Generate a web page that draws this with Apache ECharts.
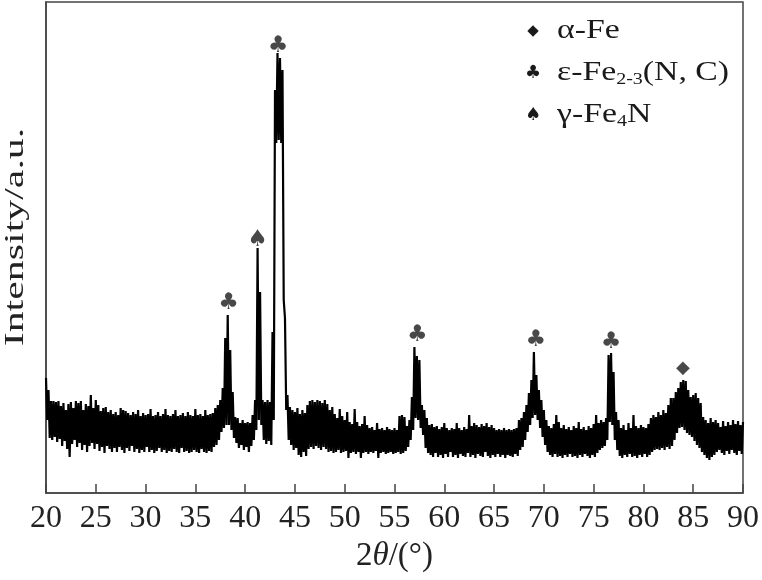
<!DOCTYPE html>
<html><head><meta charset="utf-8">
<script src="https://cdn.jsdelivr.net/npm/echarts@6/dist/echarts.min.js"></script>
<style>html,body{margin:0;padding:0;background:#fff}#c{width:762px;height:580px}</style>
</head><body><div id="c"></div>
<script>
// 2θ sampling grid (degrees)
const thetaStart = 20, thetaStep = 0.25;
// Upper extent of the noisy signal at each 2θ sample (arbitrary intensity units)
const intensityHigh = [
 115,103,92,92,  91,92,87,90,  83,89,91,85,  92,90,92,83,  89,87,98,85,
 93,88,82,85,  86,81,83,79,  81,78,85,83,  82,80,78,81,  79,83,77,80,
 78,79,84,77,  78,81,77,79,  84,78,77,79,  83,77,78,80,  77,81,78,77,
 84,78,79,77,  83,78,79,80,  85,88,93,105,  155,178,143,101,  76,75,70,73,
 70,71,70,78,  93,245,201,93,  91,93,91,161,  403,440,435,423,  175,98,86,83,
 81,85,79,83,  80,88,92,93,  91,93,92,90,  93,89,83,86,  79,75,84,77,
 73,81,71,69,  84,71,67,69,  77,68,65,66,  63,70,64,65,  63,66,64,63,
 65,63,77,78,  76,67,73,96,  146,137,133,88,  83,75,68,69,  66,67,64,66,
 70,65,63,65,  64,70,65,63,  66,64,78,67,  70,68,66,69,  67,70,66,68,
 65,63,64,63,  65,63,64,63,  64,65,73,75,  81,88,100,113,  141,118,103,93,
 83,73,67,65,  69,78,71,65,  68,64,66,63,  67,65,71,64,  66,63,67,65,
 69,78,70,73,  71,75,138,140,  121,81,73,65,  68,63,70,65,  78,67,65,68,
 66,65,69,75,  78,76,81,78,  83,80,88,95,  95,101,105,111,  113,112,103,96,
 98,100,95,90,  76,73,70,75,  71,73,70,66,  72,67,71,68,  73,69,72,68,
 71
];
// Lower extent of the noisy signal, half a step after each sample
const intensityLow = [
 73,55,53,56,  51,54,47,52,  44,36,49,53,  46,50,43,48,  41,47,50,44,
 49,42,46,40,  47,44,41,45,  41,46,43,40,  45,42,47,41,  44,40,43,41,
 46,41,43,40,  42,45,41,43,  40,42,41,44,  41,40,45,41,  42,40,41,43,
 41,40,44,41,  40,42,41,46,  48,53,61,65,  68,68,63,55,  50,45,48,43,
 46,41,47,53,  63,73,68,53,  49,52,48,73,  350,353,350,193,  83,53,48,43,
 45,38,36,41,  37,44,46,44,  47,45,43,46,  44,41,42,40,  41,43,40,41,
 42,35,40,41,  39,41,35,40,  41,39,41,40,  42,35,40,41,  39,40,41,39,
 40,41,39,40,  42,46,53,63,  75,73,65,58,  45,40,38,36,  40,36,38,35,
 39,36,41,36,  38,35,39,37,  36,40,36,38,  35,39,37,36,  41,37,35,38,
 36,39,36,38,  35,38,37,36,  39,37,43,46,  53,61,68,75,  78,73,65,56,
 48,41,38,36,  39,36,37,35,  38,36,39,36,  37,35,38,36,  39,37,35,38,
 36,40,43,45,  47,53,71,68,  53,43,37,35,  38,36,39,36,  37,35,38,36,
 39,36,38,41,  43,44,43,45,  43,46,44,47,  53,60,65,66,  63,60,58,56,
 52,48,45,41,  38,35,33,36,  38,41,43,40,  38,42,39,43,  40,38,42,39,
 41
];
// Peak phase markers
const markTheta = [38.34, 41.24, 43.3, 57.3, 69.2, 76.75, 83.97];
const markIntensity = [190, 253, 447, 158, 153, 151, 125];
const markGlyph = ['♣','♠','♣','♣','♣','♣','◆'];
// Legend
const legendGlyph = ['◆','♣','♠'];
const legendLabel = ['α-Fe','ε-Fe{sub|2-3}(N, C)','γ-Fe{sub|4}N'];
// Axis ticks and titles
const xTicks = [20,25,30,35,40,45,50,55,60,65,70,75,80,85,90];
const yTitle = 'Intensity/a.u.';

const lineData = [];
for (let i = 0; i < intensityHigh.length; i++) {
  const t = thetaStart + i * thetaStep;
  lineData.push([t, intensityHigh[i]]);
  if (i < intensityHigh.length - 1) lineData.push([t + thetaStep / 2, intensityLow[i]]);
}
const markData = markTheta.map((t, k) => ({
  value: [t, markIntensity[k]], name: markGlyph[k],
  label: { fontSize: markGlyph[k] === '◆' ? 18 : 23 }
}));

const serif = 'Liberation Serif';
const ink = '#1a1a1a';
const graphic = [];
legendGlyph.forEach((g, k) => {
  const y = 31 + 42 * k;
  graphic.push({ type: 'text', x: 533, y: y, style: {
    text: g, font: (g === '◆' ? 15 : 18) + 'px "DejaVu Sans"', fill: ink, align: 'center', verticalAlign: 'middle' } });
  graphic.push({ type: 'text', x: 557, y: y, scaleX: 1.25, style: {
    text: legendLabel[k], font: '27px "' + serif + '"', fill: ink, align: 'left', verticalAlign: 'middle', lineHeight: 30,
    rich: { sub: { fontSize: 16, fontFamily: serif, lineHeight: 16, verticalAlign: 'bottom', fill: ink } } } });
});
// rotated y-axis title
graphic.push({ type: 'text', x: 16, y: 237, rotation: Math.PI / 2, scaleX: 1.55, style: {
  text: yTitle, font: '27px "' + serif + '"', fill: '#222', align: 'center', verticalAlign: 'middle' } });

const chart = echarts.init(document.getElementById('c'));
chart.setOption({
  animation: false,
  backgroundColor: '#fff',
  grid: { left: 46, right: 15, top: 2, bottom: 87, show: true, borderColor: '#444', borderWidth: 1.5 },
  xAxis: {
    type: 'value', min: 20, max: 90, interval: 5,
    axisLine: { show: true, lineStyle: { color: '#444', width: 1.5 } },
    axisTick: { show: true, inside: true, length: 9, lineStyle: { color: '#444', width: 1.5 } },
    axisLabel: { fontFamily: serif, fontSize: 32, color: '#222', margin: 10,
      formatter: v => xTicks.indexOf(v) >= 0 ? String(v) : '' },
    splitLine: { show: false },
    name: '{n|2}{i|θ}{n|/(°)}', nameLocation: 'middle', nameGap: 44,
    nameTextStyle: { rich: {
      n: { fontFamily: serif, fontSize: 33, color: '#222' },
      i: { fontFamily: serif, fontSize: 33, fontStyle: 'italic', color: '#222' } } }
  },
  yAxis: {
    type: 'value', min: 0, max: 491,
    axisLine: { show: true, lineStyle: { color: '#444', width: 1.5 } },
    axisTick: { show: false }, axisLabel: { show: false }, splitLine: { show: false }
  },
  graphic: graphic,
  series: [
    { type: 'line', data: lineData, showSymbol: false, symbol: 'none', silent: true,
      lineStyle: { color: '#000', width: 2.2 } },
    { type: 'scatter', data: markData, symbolSize: 0, silent: true,
      label: { show: true, position: 'inside', formatter: '{b}', color: ink, fontFamily: 'DejaVu Sans' } }
  ]
});
</script></body></html>
